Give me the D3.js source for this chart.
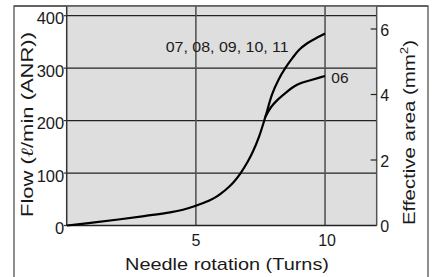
<!DOCTYPE html>
<html><head><meta charset="utf-8">
<script src="https://cdn.jsdelivr.net/npm/d3@7"></script>
<style>
body{margin:0;background:#fff}
svg{display:block}
text{font-family:"Liberation Sans",Arial,Helvetica,sans-serif;fill:#1a1a1a}
</style>
</head><body>
<svg id="c" width="434" height="277"></svg>
<script>
// ---- data ----
const turnsMain = [0, 1, 2, 3, 4, 4.5, 5, 5.5, 5.8, 6.0, 6.2, 6.45, 6.72, 7.0, 7.2, 7.45, 7.69, 7.95, 8.2, 8.46, 8.75, 9.0, 9.3, 9.65, 10];
const flowMain  = [0, 5.5, 11.5, 18, 25, 30, 37.5, 47, 55, 62, 70, 82, 99, 121, 140, 170, 207, 250, 278, 300, 320, 335, 347, 357, 366];
const turns06 = [7.69, 7.9, 8.15, 8.5, 8.8, 9.1, 9.44, 9.75, 10];
const flow06  = [207, 225, 239, 254, 265, 272, 277, 281.5, 285];
const xTicks  = [5, 10];
const yTicks  = [0, 100, 200, 300, 400];
const y2Ticks = [0, 2, 4, 6];
const labelMain = "07, 08, 09, 10, 11";
const label06 = "06";
const xTitle = "Needle rotation (Turns)";
const y2Title = "Effective area  (mm";

// ---- layout ----
const svg = d3.select("#c");
const L = 66.7, R = 376.7, T = 6, B = 225.5;
const x = d3.scaleLinear().domain([0, 12]).range([L, R]);
const y = d3.scaleLinear().domain([0, 400]).range([B, 15.7]);
const y2 = d3.scaleLinear().domain([0, 6]).range([B, 29]);

// outer frame
svg.append("rect").attr("x", 14).attr("y", 6).attr("width", 414).attr("height", 300)
  .attr("fill", "none").attr("stroke", "#6a6a6a").attr("stroke-width", 1.5);

// plot background
svg.append("rect").attr("x", L).attr("y", T).attr("width", R - L).attr("height", B - T)
  .attr("fill", "#dedede");

// horizontal gridlines
svg.append("g").selectAll("line").data(yTicks.filter(d => d > 0)).join("line")
  .attr("x1", L).attr("x2", R).attr("y1", d => y(d)).attr("y2", d => y(d))
  .attr("stroke", "#222").attr("stroke-width", 1.2);

// vertical gridlines
svg.append("g").selectAll("line").data(xTicks).join("line")
  .attr("x1", d => x(d)).attr("x2", d => x(d)).attr("y1", T).attr("y2", B)
  .attr("stroke", "#555").attr("stroke-width", 1.6);

// plot borders
svg.append("line").attr("x1", L).attr("x2", L).attr("y1", T).attr("y2", B).attr("stroke", "#333").attr("stroke-width", 1.5);
svg.append("line").attr("x1", R).attr("x2", R).attr("y1", T).attr("y2", B).attr("stroke", "#555").attr("stroke-width", 1.5);
svg.append("line").attr("x1", L).attr("x2", R).attr("y1", B).attr("y2", B).attr("stroke", "#222").attr("stroke-width", 1.6);
svg.append("line").attr("x1", 14).attr("x2", 428).attr("y1", T).attr("y2", T).attr("stroke", "#555").attr("stroke-width", 1.5);

// left axis ticks + labels
const gl = svg.append("g");
gl.selectAll("line").data(yTicks).join("line")
  .attr("x1", L - 3).attr("x2", L).attr("y1", d => y(d)).attr("y2", d => y(d))
  .attr("stroke", "#333").attr("stroke-width", 1.2);
gl.selectAll("text").data(yTicks).join("text")
  .attr("x", L - 2.5).attr("y", d => y(d) + 3).attr("dy", "0.35em")
  .attr("text-anchor", "end").attr("font-size", 16.5).text(d => d);

// right axis ticks + labels
const gr = svg.append("g");
gr.selectAll("line").data(y2Ticks.filter(d => d > 0)).join("line")
  .attr("x1", R - 6).attr("x2", R).attr("y1", d => y2(d)).attr("y2", d => y2(d))
  .attr("stroke", "#222").attr("stroke-width", 1.2);
gr.selectAll("text").data(y2Ticks).join("text")
  .attr("x", R + 3.5).attr("y", d => y2(d) + 1).attr("dy", "0.35em")
  .attr("text-anchor", "start").attr("font-size", 16).text(d => d);

// x tick labels
svg.append("g").selectAll("text").data(xTicks).join("text")
  .attr("x", d => x(d) + (d >= 10 ? 2 : 0)).attr("y", 245.5)
  .attr("text-anchor", "middle").attr("font-size", 16).text(d => d);

// curves
const line = d3.line().x(d => x(d[0])).y(d => y(d[1])).curve(d3.curveCatmullRom.alpha(0.5));
svg.append("path").datum(d3.zip(turnsMain, flowMain)).attr("d", line)
  .attr("fill", "none").attr("stroke", "#000").attr("stroke-width", 2.2);
svg.append("path").datum(d3.zip(turns06, flow06)).attr("d", line)
  .attr("fill", "none").attr("stroke", "#000").attr("stroke-width", 2.2);

// curve labels
svg.append("text").attr("x", 165.7).attr("y", 52).attr("font-size", 15.5)
  .attr("textLength", 123).attr("lengthAdjust", "spacingAndGlyphs").text(labelMain);
svg.append("text").attr("x", 331.3).attr("y", 82.5).attr("font-size", 15.5).text(label06);

// x title
svg.append("text").attr("x", 227).attr("y", 269.5).attr("text-anchor", "middle")
  .attr("font-size", 17).attr("textLength", 204).attr("lengthAdjust", "spacingAndGlyphs").text(xTitle);

// left title
const lt = svg.append("text").attr("transform", "translate(33,124.5) rotate(-90)")
  .attr("text-anchor", "middle").attr("font-size", 17)
  .attr("textLength", 185).attr("lengthAdjust", "spacingAndGlyphs");
lt.append("tspan").text("Flow  (");
lt.append("tspan").attr("font-style", "italic").attr("font-family", "'DejaVu Serif',serif").text("ℓ");
lt.append("tspan").text("/min (ANR))");

// right title
const rt = svg.append("text").attr("transform", "translate(415,132.5) rotate(-90)")
  .attr("text-anchor", "middle").attr("font-size", 17)
  .attr("textLength", 185).attr("lengthAdjust", "spacingAndGlyphs");
rt.append("tspan").text(y2Title);
rt.append("tspan").attr("font-size", 11).attr("dy", -7).text("2");
rt.append("tspan").attr("dy", 7).text(")");
</script>
</body></html>
